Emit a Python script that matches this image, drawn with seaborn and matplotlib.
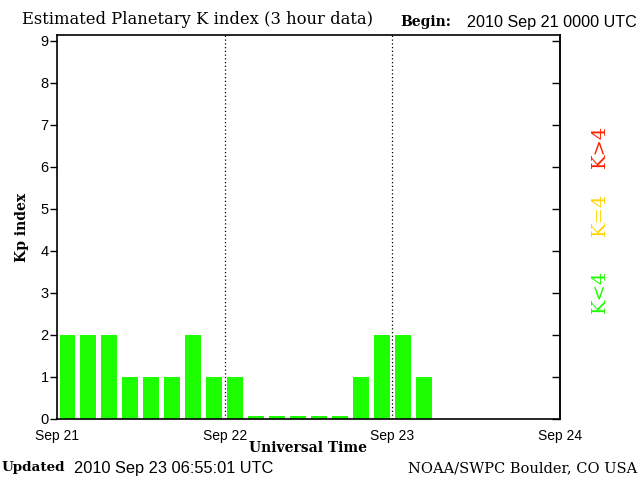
import pandas as pd
import seaborn as sns
import matplotlib.pyplot as plt

# 3-hour Kp values, Sep 21 00 UT onwards
hours = [1.5 + 3 * i for i in range(18)]
kp = [2, 2, 2, 1, 1, 1, 2, 1,
      1, 0, 0, 0, 0, 0, 1, 2,
      2, 1]
day_ticks = [0, 24, 48, 72]
day_labels = ['Sep 21', 'Sep 22', 'Sep 23', 'Sep 24']
y_levels = list(range(10))

df = pd.DataFrame({'hour': hours, 'kp': kp})
df['shown'] = df['kp'].clip(lower=0.07)  # zero slots drawn as thin sliver

sns.set_style('white')
plt.rcParams['font.family'] = ['Liberation Sans', 'DejaVu Sans']
plt.rcParams['text.color'] = 'black'
plt.rcParams['xtick.color'] = 'black'
plt.rcParams['ytick.color'] = 'black'

fig = plt.figure(figsize=(6.4, 4.8), dpi=100)
ax = fig.add_axes([57 / 640, 61 / 480, 503 / 640, 384 / 480])

sns.barplot(data=df, x='hour', y='shown', native_scale=True, width=0.76,
            color='#1dff00', saturation=1, linewidth=0, ax=ax)

ax.set_xlim(0, 72)
ax.set_ylim(0, 9.14)
for d in day_ticks[1:3]:
    ax.axvline(d, color='black', ls=(0, (1, 2)), lw=0.9)

for s in ax.spines.values():
    s.set_color('black')
    s.set_linewidth(1.2)

ax.set_xticks(day_ticks, day_labels)
ax.set_xticks(hours, minor=True)
ax.tick_params(axis='x', which='major', direction='in', length=7, width=1,
               color='black', pad=7, labelsize=10)
ax.tick_params(axis='x', which='minor', direction='in', length=7, width=1,
               color='white', bottom=True)
ax.set_yticks(y_levels)
ax.tick_params(axis='y', direction='out', length=5, width=1, pad=1,
               labelsize=10.5, left=True, color='black')
ax.set_xlabel('')
ax.set_ylabel('')

ax2 = ax.secondary_yaxis('right')
ax2.set_yticks(y_levels)
ax2.set_yticklabels([])
ax2.tick_params(direction='in', length=6, width=1, color='black')
ax2.spines['right'].set_linewidth(1.2)

def txt(x, y, s, **kw):
    fig.text(x / 640, 1 - y / 480, s, **kw)

serif = ['DejaVu Serif']
txt(22, 19, 'Estimated Planetary K index (3 hour data)', family=serif,
    fontsize=11.8, va='center', ha='left')
txt(400, 22, 'Begin:', family=serif, fontweight='bold', fontsize=10,
    va='center', ha='left')
txt(637, 22, '2010 Sep 21 0000 UTC', fontsize=11.6, va='center', ha='right')
txt(22, 227, 'Kp index', family=serif, fontweight='bold', fontsize=10,
    rotation=90, va='center', ha='center')
txt(308, 448, 'Universal Time', family=serif, fontweight='bold', fontsize=10,
    va='center', ha='center')
txt(2, 468, 'Updated', family=serif, fontweight='bold', fontsize=9.7,
    va='center', ha='left')
txt(74, 468, '2010 Sep 23 06:55:01 UTC', fontsize=11.8, va='center', ha='left')
txt(637, 468, 'NOAA/SWPC Boulder, CO USA', family=serif, fontsize=10.5,
    va='center', ha='right')

txt(600, 146, 'K>4', family=serif, fontsize=14, color='#ff2200',
    rotation=90, va='center', ha='center')
txt(600, 214, 'K=4', family=serif, fontsize=14, color='#ffd600',
    rotation=90, va='center', ha='center')
txt(600, 291, 'K<4', family=serif, fontsize=14, color='#1dff00',
    rotation=90, va='center', ha='center')

fig.savefig('out.png', dpi=100)
